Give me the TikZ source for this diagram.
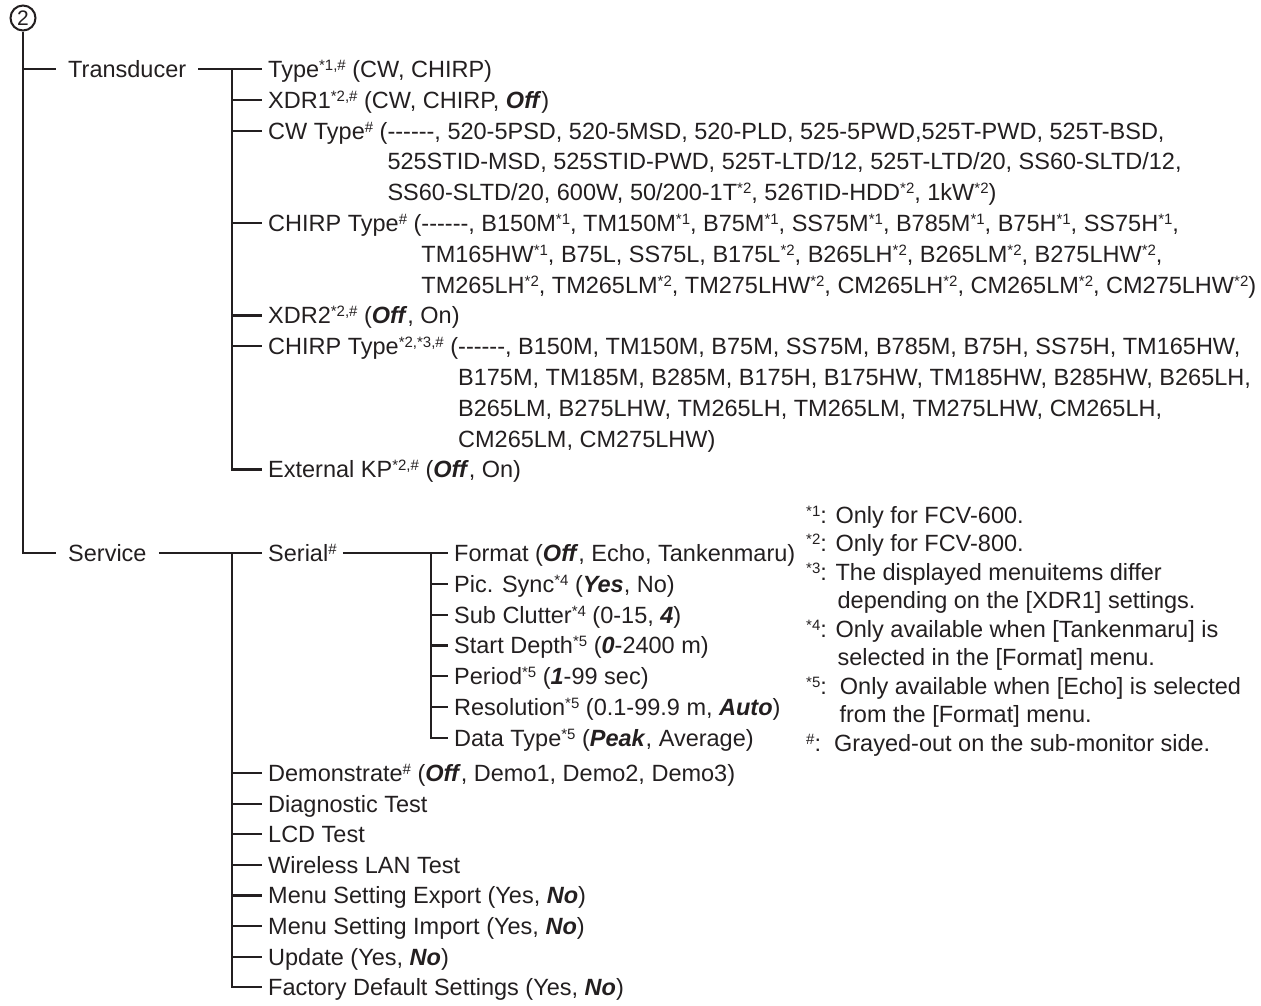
\documentclass[tikz,border=0pt]{standalone}
\usepackage{fontspec}
\setmainfont{Liberation Sans}
\definecolor{ink}{HTML}{231F20}
\newcommand{\sx}[1]{\raisebox{7pt}{\fontsize{15}{15}\selectfont #1}}
\newcommand{\bi}[1]{\textbf{\textit{#1}}}
\newcommand{\dsh}{\mbox{-}\mbox{-}\mbox{-}\mbox{-}\mbox{-}\mbox{-}}
\newcommand{\fs}{\fontsize{23.5}{30}\selectfont}
\begin{document}
\begin{tikzpicture}[x=1pt,y=-1pt,
  tline/.style={draw=ink,line width=2.2pt},
  item/.style={anchor=west,inner xsep=6pt,inner ysep=0pt,text height=16.8pt,text depth=0pt,font=\fs,text=ink},
  head/.style={item,inner xsep=12pt},
  cont/.style={item},
  note/.style={anchor=west,inner sep=0pt,text height=16.8pt,text depth=0pt,font=\fs,text=ink}]
\useasboundingbox (0,0) rectangle (1261,1005);
% root
\node[circle,draw=ink,line width=2pt,minimum size=25pt,inner sep=0pt,font=\fontsize{21}{21}\selectfont,text=ink] (c2) at (23,18) {2};
\node[head] (trans) at (56,69) {Transducer};
\node[head] (serv) at (56,553) {Service};
% Transducer subtree
\node[item] (t0) at (262,69.0) {Type\sx{*1,\#} (CW, CHIRP)};
\node[item] (t1) at (262,99.8) {XDR1\sx{*2,\#} (CW, CHIRP, \bi{Off})};
\node[item] (t2) at (262,130.6) {CW Type\sx{\#} (\dsh, 520-5PSD, 520-5MSD, 520-PLD, 525-5PWD,525T-PWD, 525T-BSD,};
\node[cont] (t3) at (262,161.4) {\phantom{CW Type\sx{\#} (}525STID-MSD, 525STID-PWD, 525T-LTD/12, 525T-LTD/20, SS60-SLTD/12,};
\node[cont] (t4) at (262,192.2) {\phantom{CW Type\sx{\#} (}SS60-SLTD/20, 600W, 50/200-1T\sx{*2}, 526TID-HDD\sx{*2}, 1kW\sx{*2})};
\node[item] (t5) at (262,223.0) {CHIRP Type\sx{\#} (\dsh, B150M\sx{*1}, TM150M\sx{*1}, B75M\sx{*1}, SS75M\sx{*1}, B785M\sx{*1}, B75H\sx{*1}, SS75H\sx{*1},};
\node[cont] (t6) at (262,253.8) {\phantom{CHIRP Type\sx{\#} (}TM165HW\sx{*1}, B75L, SS75L, B175L\sx{*2}, B265LH\sx{*2}, B265LM\sx{*2}, B275LHW\sx{*2},};
\node[cont] (t7) at (262,284.6) {\phantom{CHIRP Type\sx{\#} (}TM265LH\sx{*2}, TM265LM\sx{*2}, TM275LHW\sx{*2}, CM265LH\sx{*2}, CM265LM\sx{*2}, CM275LHW\sx{*2})};
\node[item] (t8) at (262,315.4) {XDR2\sx{*2,\#} (\bi{Off}, On)};
\node[item] (t9) at (262,346.2) {CHIRP Type\sx{*2,*3,\#} (\dsh, B150M, TM150M, B75M, SS75M, B785M, B75H, SS75H, TM165HW,};
\node[cont] (t10) at (262,377.0) {\phantom{CHIRP Type\sx{*2,*3,\#} (}B175M, TM185M, B285M, B175H, B175HW, TM185HW, B285HW, B265LH,};
\node[cont] (t11) at (262,407.8) {\phantom{CHIRP Type\sx{*2,*3,\#} (}B265LM, B275LHW, TM265LH, TM265LM, TM275LHW, CM265LH,};
\node[cont] (t12) at (262,438.6) {\phantom{CHIRP Type\sx{*2,*3,\#} (}CM265LM, CM275LHW)};
\node[item] (t13) at (262,469.4) {External KP\sx{*2,\#} (\bi{Off}, On)};
% Service subtree
\node[item] (s0) at (262,553) {Serial\sx{\#}};
\node[item] (p0) at (448,553.0) {Format (\bi{Off}, Echo, Tankenmaru)};
\node[item] (p1) at (448,583.8) {Pic. Sync\sx{*4} (\bi{Yes}, No)};
\node[item] (p2) at (448,614.6) {Sub Clutter\sx{*4} (0-15, \bi{4})};
\node[item] (p3) at (448,645.4) {Start Depth\sx{*5} (\bi{0}-2400 m)};
\node[item] (p4) at (448,676.2) {Period\sx{*5} (\bi{1}-99 sec)};
\node[item] (p5) at (448,707.0) {Resolution\sx{*5} (0.1-99.9 m, \bi{Auto})};
\node[item] (p6) at (448,737.8) {Data Type\sx{*5} (\bi{Peak}, Average)};
\node[item] (s1) at (262,773.0) {Demonstrate\sx{\#} (\bi{Off}, Demo1, Demo2, Demo3)};
\node[item] (s2) at (262,803.6) {Diagnostic Test};
\node[item] (s3) at (262,834.2) {LCD Test};
\node[item] (s4) at (262,864.8) {Wireless LAN Test};
\node[item] (s5) at (262,895.4) {Menu Setting Export (Yes, \bi{No})};
\node[item] (s6) at (262,926.0) {Menu Setting Import (Yes, \bi{No})};
\node[item] (s7) at (262,956.6) {Update (Yes, \bi{No})};
\node[item] (s8) at (262,987.2) {Factory Default Settings (Yes, \bi{No})};
% footnotes
\node[note] (n1) at (806,515.0) {\sx{*1}: Only for FCV-600.};
\node[note] (n2) at (806,543.5) {\sx{*2}: Only for FCV-800.};
\node[note] (n3) at (806,572.0) {\sx{*3}: The displayed menuitems differ};
\node[note] (n3b) at (806,600.5) {\phantom{\sx{*3}: }\hspace{2pt}depending on the [XDR1] settings.};
\node[note] (n4) at (806,629.0) {\sx{*4}: Only available when [Tankenmaru] is};
\node[note] (n4b) at (806,657.5) {\phantom{\sx{*4}: }\hspace{2pt}selected in the [Format] menu.};
\node[note] (n5) at (806,686.0) {\sx{*5}:\ \ Only available when [Echo] is selected};
\node[note] (n5b) at (806,714.5) {\phantom{\sx{*5}: }\hspace{4pt}from the [Format] menu.};
\node[note] (n6) at (806,743.0) {\sx{\#}:\ \ Grayed-out on the sub-monitor side.};
% connectors: root
\draw[tline] (c2) -- (c2 |- serv.west) -- (serv.west);
\draw[tline] (c2 |- trans.west) -- (trans.west);
% Transducer
\coordinate (tv) at (232,0);
\draw[tline] (trans) -- (t0);
\draw[tline] (tv |- t0.west) -- (tv |- t13.west) -- (t13.west);
\foreach \i in {1,2,5,8,9} {\draw[tline] (tv |- t\i.west) -- (t\i.west);}
% Service
\coordinate (sv) at (232,0);
\draw[tline] (serv) -- (s0);
\draw[tline] (sv |- s0.west) -- (sv |- s8.west) -- (s8.west);
\foreach \i in {1,...,7} {\draw[tline] (sv |- s\i.west) -- (s\i.west);}
% Serial
\coordinate (pv) at (431,0);
\draw[tline] (s0) -- (p0);
\draw[tline] (pv |- p0.west) -- (pv |- p6.west) -- (p6.west);
\foreach \i in {1,...,5} {\draw[tline] (pv |- p\i.west) -- (p\i.west);}
\end{tikzpicture}
\end{document}
